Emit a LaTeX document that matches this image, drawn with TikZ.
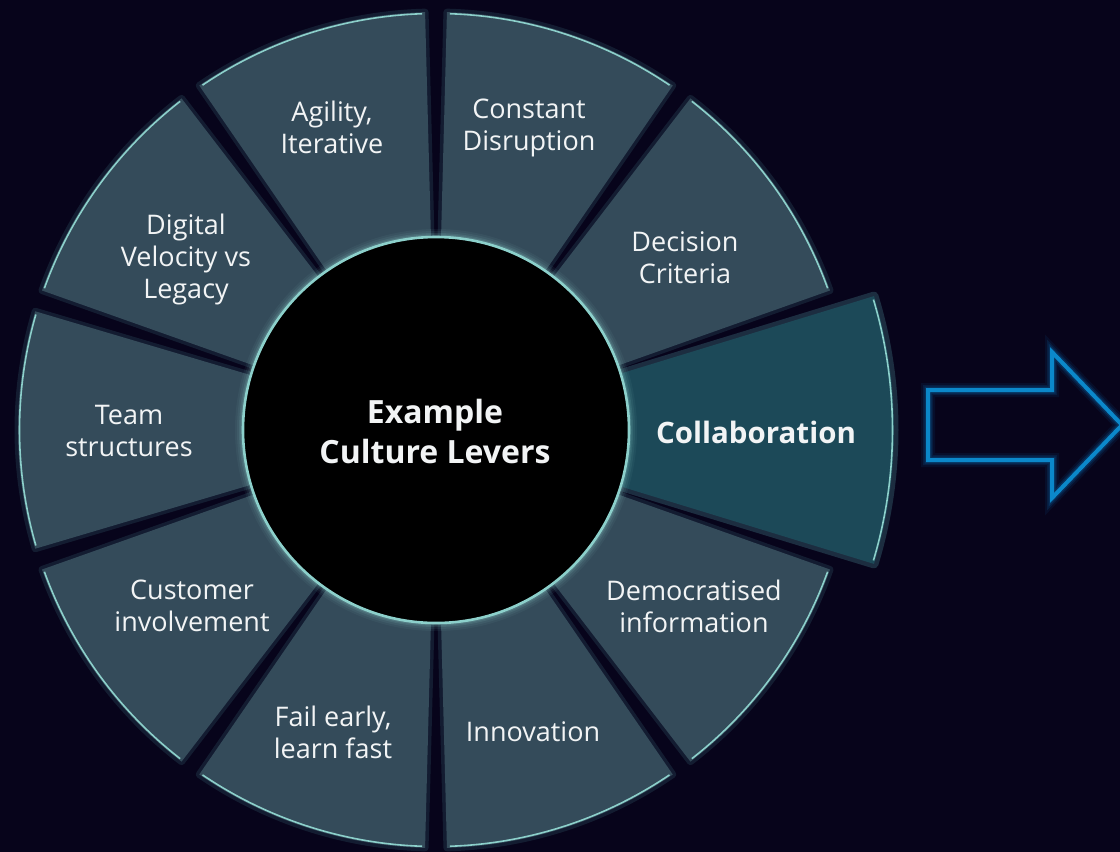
\documentclass[tikz,border=0pt]{standalone}
\usepackage{fontspec}
\setmainfont{Open Sans}
\definecolor{bg}{HTML}{07041B}
\definecolor{seg}{HTML}{344B5A}
\definecolor{collab}{HTML}{1C4958}
\definecolor{rim}{HTML}{8CD0CB}
\definecolor{halo}{HTML}{4F8C98}
\definecolor{arrowblue}{HTML}{0B88CA}
\definecolor{arrowglow}{HTML}{0A5C9C}
\definecolor{txt}{HTML}{F2F4F5}
\tikzset{
  lbl/.style={align=center, text=txt, font=\fontsize{27}{32}\selectfont, inner sep=0pt},
  boldlbl/.style={align=center, text=txt, font=\fontsize{32}{40}\selectfont\bfseries, inner sep=0pt},
  highlbl/.style={align=center, text=txt, font=\fontsize{29.5}{36}\selectfont\bfseries, inner sep=0pt},
  rimline/.style={draw=rim, line width=1.6pt},
}
\begin{document}
\begin{tikzpicture}[x=1pt,y=1pt]
\fill[bg] (0,0) rectangle (1120,-852);
\useasboundingbox (0,0) rectangle (1120,-852);
\begin{scope}[shift={(436,-430)}]
  % regular segments
  \foreach \a in {18,54,90,126,162,198,234,270,306}{
    \pgfmathsetmacro{\aone}{\a+1.5}
    \pgfmathsetmacro{\atwo}{\a+34.5}
    \draw[halo, opacity=0.18, line width=7pt, line join=round]
      (\aone:180pt) -- (\aone:418pt) arc[start angle=\aone, end angle=\atwo, radius=418pt] -- (\atwo:180pt) -- cycle;
    \fill[seg] (\aone:180pt) -- (\aone:418pt) arc[start angle=\aone, end angle=\atwo, radius=418pt] -- (\atwo:180pt) -- cycle;
    \pgfmathsetmacro{\bone}{\a+1.9}
    \pgfmathsetmacro{\btwo}{\a+34.1}
    \draw[rimline] (\bone:416.5pt) arc[start angle=\bone, end angle=\btwo, radius=416.5pt];
  }
  % highlighted segment
  \draw[halo, opacity=0.3, line width=9pt, line join=round]
    (-17:180pt) -- (-17:458pt) arc[start angle=-17, end angle=17, radius=458pt] -- (17:180pt) -- cycle;
  \fill[collab] (-17:180pt) -- (-17:458pt) arc[start angle=-17, end angle=17, radius=458pt] -- (17:180pt) -- cycle;
  \draw[rimline] (-16.6:456.5pt) arc[start angle=-16.6, end angle=16.6, radius=456.5pt];
  % centre circle with glow
  \foreach \w/\o in {16/0.06,12/0.08,8/0.12,5/0.18}{
    \draw[rim, opacity=\o, line width=\w pt] (0,0) circle[radius=193pt];
  }
  \fill[black] (0,0) circle[radius=193pt];
  \draw[rim, line width=2.6pt] (0,0) circle[radius=193pt];
\end{scope}
\node[boldlbl] (centre) at (435,-431) {Example\\Culture Levers};
\node[lbl] (agility) at (332,-127) {Agility,\\Iterative};
\node[lbl] (constant) at (529,-128) {Constant\\Disruption};
\node[lbl] (decision) at (685,-258) {Decision\\Criteria};
\node[highlbl] (collaboration) at (756,-432) {Collaboration};
\node[lbl] (democratised) at (694,-606) {Democratised\\information};
\node[lbl] (innovation) at (533,-732) {Innovation};
\node[lbl] (fail) at (333,-732) {Fail early,\\learn fast};
\node[lbl] (customer) at (192,-606) {Customer\\involvement};
\node[lbl] (team) at (129,-431) {Team\\structures};
\node[lbl] (digital) at (186,-259) {Digital\\Velocity vs\\Legacy};
% outline arrow
\foreach \w/\o in {14/0.12,10/0.2,7/0.3}{
  \draw[arrowglow, opacity=\o, line width=\w pt, line join=miter]
    (928,-390) -- (1052,-390) -- (1052,-352) -- (1122,-425) -- (1052,-498) -- (1052,-460) -- (928,-460) -- cycle;
}
\draw[arrowblue, line width=4pt, line join=miter]
  (928,-390) -- (1052,-390) -- (1052,-352) -- (1122,-425) -- (1052,-498) -- (1052,-460) -- (928,-460) -- cycle;
\end{tikzpicture}
\end{document}
